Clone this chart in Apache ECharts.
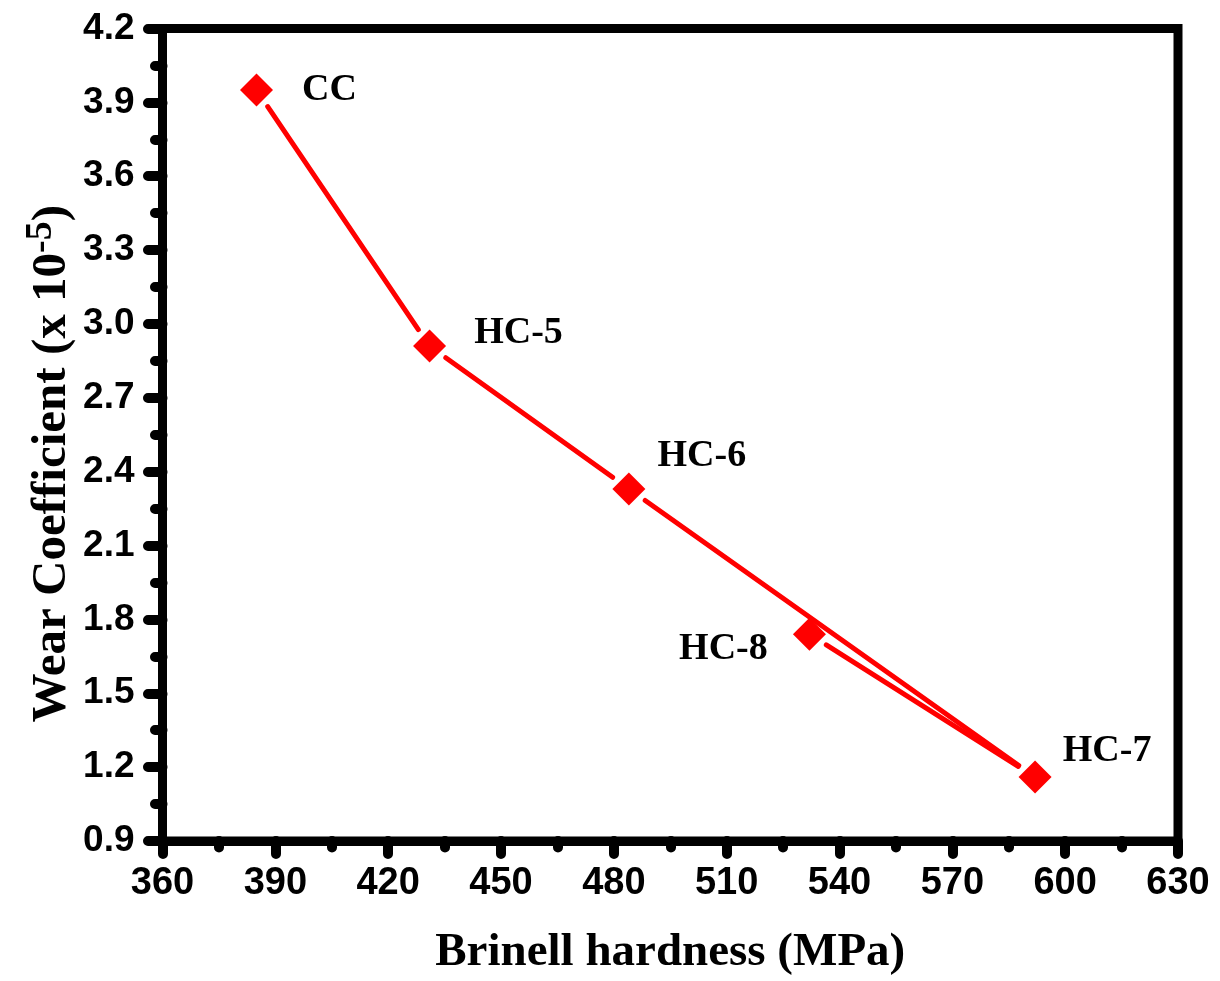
<!DOCTYPE html>
<html>
<head>
<meta charset="utf-8">
<script src="https://cdn.jsdelivr.net/npm/echarts@6/dist/echarts.min.js"></script>
<style>
  html, body { margin: 0; padding: 0; background: #fff; }
  #chart { width: 1220px; height: 981px; }
</style>
</head>
<body>
<div id="chart"></div>
<script>
// Samples in plotting order (the curve is drawn through them in this sequence)
const sampleNames = ['CC', 'HC-5', 'HC-6', 'HC-7', 'HC-8'];
const hardness = [385, 431, 484, 592, 532];          // Brinell hardness, MPa
const wearCoeff = [3.95, 2.91, 2.33, 1.16, 1.74];    // wear coefficient, x 10^-5

// Axis ranges and tick steps
const xMin = 360, xMax = 630, xStep = 30;
const yMin = 0.9, yMax = 4.2, yStep = 0.3;

// Label placement next to each marker (pixels)
const labelOffsets = [[73, 0], [89, -13], [73, -33], [72, -26], [-86, 15]];

const RED = '#ff0000';
const GAP = 20; // white space between a marker centre and the connecting line

const points = hardness.map((h, i) => ({
  value: [h, wearCoeff[i]],
  name: sampleNames[i],
  label: { offset: labelOffsets[i] }
}));

const segments = [];
for (let i = 0; i < hardness.length - 1; i++) {
  segments.push([hardness[i], wearCoeff[i], hardness[i + 1], wearCoeff[i + 1]]);
}

const tickFont = { fontFamily: 'Liberation Sans', fontWeight: 'bold', color: '#000' };
const titleFont = { fontFamily: 'Liberation Serif', fontWeight: 'bold', fontSize: 47, color: '#000' };
const tickLine = { color: '#000', width: 10, cap: 'round' };

const chart = echarts.init(document.getElementById('chart'), null, { renderer: 'canvas' });

chart.setOption({
  animation: false,
  backgroundColor: '#fff',
  grid: {
    left: 162.5, right: 42, top: 28.5, bottom: 140,
    show: true, borderColor: '#000', borderWidth: 9, backgroundColor: 'transparent'
  },
  xAxis: {
    type: 'value', min: xMin, max: xMax, interval: xStep,
    name: 'Brinell hardness (MPa)',
    nameLocation: 'middle', nameGap: 88, nameMoveOverlap: false,
    nameTextStyle: titleFont,
    axisLine: { show: true, onZero: false, lineStyle: { color: '#000', width: 9 } },
    axisTick: { show: true, inside: false, length: 13, lineStyle: tickLine },
    minorTick: { show: true, splitNumber: 2, length: 6.5, lineStyle: tickLine },
    splitLine: { show: false },
    axisLabel: Object.assign({ margin: 24, fontSize: 38 }, tickFont)
  },
  yAxis: {
    type: 'value', min: yMin, max: yMax, interval: yStep,
    name: '{t|Wear Coefficient (x 10}{s|-5}{t|)}',
    nameLocation: 'middle', nameGap: 80, nameRotate: 90, nameMoveOverlap: false,
    nameTextStyle: {
      padding: [0, 58, 0, 0],
      rich: {
        t: Object.assign({ lineHeight: 60 }, titleFont, { fontSize: 49 }),
        s: { fontFamily: 'Liberation Serif', fontWeight: 'bold', fontSize: 38, color: '#000', verticalAlign: 'top', lineHeight: 60, padding: [0, 0, 30, 0] }
      }
    },
    axisLine: { show: true, onZero: false, lineStyle: { color: '#000', width: 9 } },
    axisTick: { show: true, inside: false, length: 14.5, lineStyle: tickLine },
    minorTick: { show: true, splitNumber: 2, length: 7.5, lineStyle: tickLine },
    splitLine: { show: false },
    axisLabel: Object.assign({ margin: 28, fontSize: 37, formatter: v => v.toFixed(1) }, tickFont)
  },
  series: [
    {
      // connecting line, broken off short of each marker
      type: 'custom',
      data: segments,
      encode: { x: [0, 2], y: [1, 3] },
      z: 2,
      renderItem: function (params, api) {
        const a = api.coord([api.value(0), api.value(1)]);
        const b = api.coord([api.value(2), api.value(3)]);
        const dx = b[0] - a[0], dy = b[1] - a[1];
        const len = Math.sqrt(dx * dx + dy * dy);
        const ux = dx / len, uy = dy / len;
        return {
          type: 'line',
          shape: {
            x1: a[0] + ux * GAP, y1: a[1] + uy * GAP,
            x2: b[0] - ux * GAP, y2: b[1] - uy * GAP
          },
          style: { stroke: RED, lineWidth: 5, lineCap: 'round' }
        };
      }
    },
    {
      type: 'scatter',
      data: points,
      symbol: 'diamond',
      symbolSize: 33,
      z: 3,
      itemStyle: { color: RED, opacity: 1 },
      label: {
        show: true,
        position: 'inside',
        formatter: p => p.name,
        fontFamily: 'Liberation Serif', fontWeight: 'bold', fontSize: 38,
        color: '#000', opacity: 1, textBorderWidth: 0
      }
    }
  ]
});
</script>
</body>
</html>
